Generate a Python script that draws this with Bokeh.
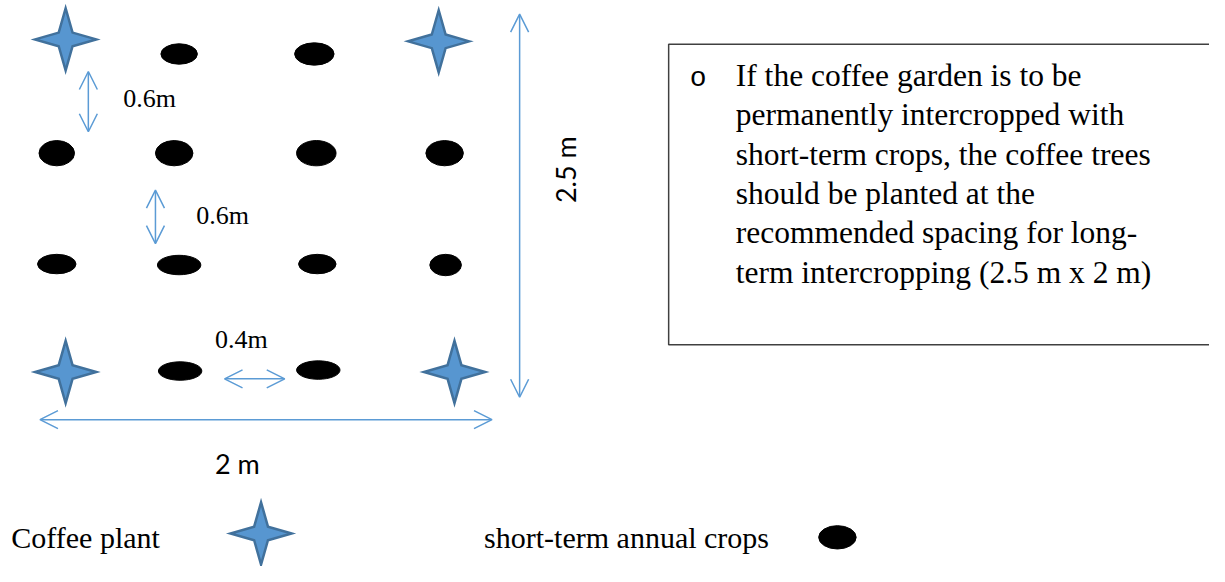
import numpy as np
from bokeh.plotting import figure
from bokeh.models import Range1d, ColumnDataSource, Arrow, OpenHead
from bokeh.core.properties import value
from bokeh.embed import file_html
from bokeh.resources import INLINE

# ---- data (diagram positions, in reference pixels) ----
coffee_x = [66, 444, 66, 460]
coffee_y = [40, 42, 382, 382]

crop_x = [181, 318, 57, 176, 320, 450, 57, 181, 321, 451, 182, 322]
crop_y = [55, 55, 157, 157, 157, 157, 271, 272, 271, 272, 381, 380]
crop_w = [37, 40, 36, 38, 40, 38, 39, 44, 38, 32, 44, 44]
crop_h = [21, 23, 26, 26, 26, 26, 20, 20, 20, 22, 19, 19]

arrow_x0 = [89, 157, 227, 40, 526]
arrow_y0 = [73, 195, 389, 431, 14]
arrow_x1 = [89, 157, 288, 498, 526]
arrow_y1 = [135, 250, 389, 431, 408]

serif_labels = ["0.6m", "0.6m", "0.4m"]
serif_label_x = [151, 225, 244]
serif_label_y = [101, 221, 349]

box_lines = [
    "If the coffee garden is to be",
    "permanently intercropped with",
    "short-term crops, the coffee trees",
    "should be planted at the",
    "recommended spacing for long-",
    "term intercropping (2.5 m x 2 m)",
]
box_line_y = [77, 117.5, 158, 198.5, 239, 279.5]

legend_labels = ["Coffee plant", "short-term annual crops"]
legend_label_x = [11, 490]
legend_label_y = [552, 552]
legend_star = (264, 548)
legend_crop = (848, 552, 38, 24)

BLUE = "#5B9BD5"
STAR_FILL = "#5796D0"
STAR_LINE = "#41719C"

p = figure(width=1209, height=566, x_range=Range1d(0, 1225), y_range=Range1d(582, 0),
           output_backend="svg", toolbar_location=None, min_border=0,
           x_axis_location=None, y_axis_location=None)
p.grid.visible = False
p.outline_line_color = None
p.background_fill_color = "white"
p.border_fill_color = "white"


def star(cx, cy, rx=31, ry=32, inner=7):
    xs = [cx + rx, cx + inner, cx, cx - inner, cx - rx, cx - inner, cx, cx + inner]
    ys = [cy, cy - inner, cy - ry, cy - inner, cy, cy + inner, cy + ry, cy + inner]
    return xs, ys


sx, sy = [], []
for cx, cy in list(zip(coffee_x, coffee_y)) + [legend_star]:
    a, b = star(cx, cy)
    sx.append(a)
    sy.append(b)
p.patches(sx, sy, fill_color=STAR_FILL, line_color=STAR_LINE, line_width=2.5, line_join="miter")

# crops
p.ellipse(x=crop_x, y=crop_y, width=crop_w, height=crop_h, fill_color="black", line_color="black")
p.ellipse(x=[legend_crop[0]], y=[legend_crop[1]], width=[legend_crop[2]], height=[legend_crop[3]],
          fill_color="black", line_color="black")

# arrows
asrc = ColumnDataSource(dict(x0=arrow_x0, y0=arrow_y0, x1=arrow_x1, y1=arrow_y1))
p.add_layout(Arrow(x_start="x0", y_start="y0", x_end="x1", y_end="y1", source=asrc,
                   line_color=BLUE, line_width=1.5,
                   start=OpenHead(size=18, line_color=BLUE, line_width=1.5),
                   end=OpenHead(size=18, line_color=BLUE, line_width=1.5)))

# spacing labels
p.text(x=serif_label_x, y=serif_label_y, text=serif_labels, text_font=value("Liberation Serif"),
       text_font_size="26px", text_align="center", text_baseline="middle", text_color="black")
p.text(x=[240], y=[476], text=["2 m"], text_font=value("Lato"), text_font_size="27px",
       text_align="center", text_baseline="middle", text_color="black")
p.text(x=[572], y=[174], text=["2.5 m"], text_font=value("Lato"), text_font_size="27px",
       text_align="center", text_baseline="middle", angle=np.pi / 2, text_color="black")

# text box
p.quad(left=[677], right=[1240], top=[45], bottom=[354], fill_color=None,
       line_color="#404040", line_width=1.5)
p.text(x=[707], y=[80], text=["o"], text_font=value("Liberation Mono"), text_font_size="28px",
       text_align="center", text_baseline="middle", text_color="black")
p.text(x=[745] * len(box_lines), y=box_line_y, text=box_lines, text_font=value("Liberation Serif"),
       text_font_size="31.5px", text_align="left", text_baseline="middle", text_color="black")

# legend
p.text(x=legend_label_x, y=legend_label_y, text=legend_labels, text_font=value("Liberation Serif"),
       text_font_size="30px", text_align="left", text_baseline="middle", text_color="black")

open("out.html", "w").write(file_html(p, INLINE))
